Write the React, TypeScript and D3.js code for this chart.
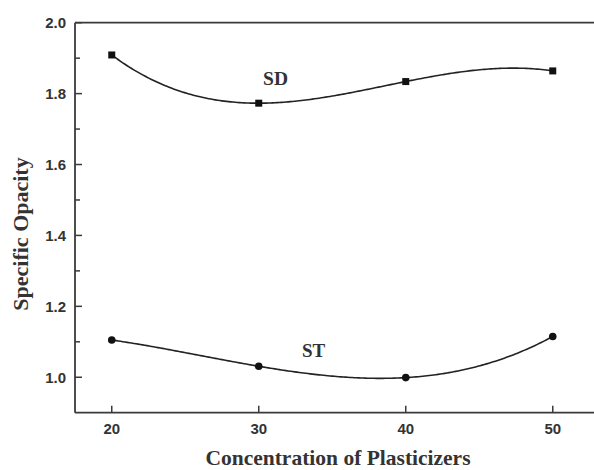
import React from "react";
import * as d3 from "d3";

const concentrations = [20, 30, 40, 50];
const sdValues = [1.909, 1.773, 1.834, 1.864];
const stValues = [1.105, 1.031, 0.999, 1.115];
const xTicks = [20, 30, 40, 50];
const yTicks = [1.0, 1.2, 1.4, 1.6, 1.8, 2.0];
const yMinorTicks = [1.1, 1.3, 1.5, 1.7, 1.9];

const W = 594;
const H = 470;
const left = 75;
const top = 22.7;
const bottom = 412.7;

// polynomial (Lagrange) interpolation through the data points, used only for the smooth curve rendering
function interp(xs: number[], ys: number[], t: number) {
  let s = 0;
  for (let i = 0; i < xs.length; i++) {
    let p = ys[i];
    for (let j = 0; j < xs.length; j++) {
      if (j !== i) p *= (t - xs[j]) / (xs[i] - xs[j]);
    }
    s += p;
  }
  return s;
}

export default function App() {
  const x = d3.scaleLinear().domain([17.5, 53]).range([left, left + 35.5 * 14.7]);
  const y = d3.scaleLinear().domain([0.9, 2.0]).range([bottom, top]);
  const xMin = concentrations[0];
  const xMax = concentrations[concentrations.length - 1];
  const samples = d3.range(0, 201).map((k) => xMin + ((xMax - xMin) * k) / 200);
  const line = d3
    .line<[number, number]>()
    .x((d) => x(d[0]))
    .y((d) => y(d[1]));
  const curveOf = (vals: number[]) =>
    line(samples.map((t) => [t, interp(concentrations, vals, t)] as [number, number])) || "";
  const right = x(53);
  const axisColor = "#3a3a3a";
  const textColor = "#333";
  const sans = "'Liberation Sans', Arial, sans-serif";
  const serif = "'Liberation Serif', 'Times New Roman', serif";

  return (
    <svg width={W} height={H} style={{ position: "absolute", left: 0, top: 0, background: "#fff" }}>
      {/* frame */}
      <line x1={left} x2={right} y1={top} y2={top} stroke={axisColor} strokeWidth={1.8} />
      <line x1={left} x2={right} y1={bottom} y2={bottom} stroke={axisColor} strokeWidth={1.8} />
      <line x1={left} x2={left} y1={top} y2={bottom} stroke={axisColor} strokeWidth={1.8} />
      <line x1={right} x2={right} y1={top} y2={bottom} stroke={axisColor} strokeWidth={1.8} />

      {/* y ticks */}
      {yTicks.map((t) => (
        <g key={"y" + t}>
          <line x1={left} x2={left + 7} y1={y(t)} y2={y(t)} stroke={axisColor} strokeWidth={1.5} />
          <text
            x={left - 9}
            y={y(t)}
            dy="0.36em"
            textAnchor="end"
            fontFamily={sans}
            fontWeight="bold"
            fontSize={15}
            fill={textColor}
          >
            {t.toFixed(1)}
          </text>
        </g>
      ))}
      {yMinorTicks.map((t) => (
        <line key={"ym" + t} x1={left} x2={left + 5} y1={y(t)} y2={y(t)} stroke={axisColor} strokeWidth={1.5} />
      ))}

      {/* x ticks */}
      {xTicks.map((t) => (
        <g key={"x" + t}>
          <line x1={x(t)} x2={x(t)} y1={bottom} y2={bottom - 7} stroke={axisColor} strokeWidth={1.5} />
          <text
            x={x(t)}
            y={434}
            textAnchor="middle"
            fontFamily={sans}
            fontWeight="bold"
            fontSize={15}
            fill={textColor}
          >
            {t}
          </text>
        </g>
      ))}

      {/* curves */}
      <path d={curveOf(sdValues)} fill="none" stroke="#222" strokeWidth={1.6} />
      <path d={curveOf(stValues)} fill="none" stroke="#222" strokeWidth={1.6} />

      {sdValues.map((v, i) => (
        <rect
          key={"sd" + i}
          x={x(concentrations[i]) - 3.5}
          y={y(v) - 3.5}
          width={7}
          height={7}
          fill="#111"
        />
      ))}
      {stValues.map((v, i) => (
        <circle key={"st" + i} cx={x(concentrations[i])} cy={y(v)} r={3.8} fill="#111" />
      ))}

      {/* series labels */}
      <text x={275.5} y={85} textAnchor="middle" fontFamily={serif} fontWeight="bold" fontSize={19.5} fill={textColor}>
        SD
      </text>
      <text x={313.5} y={357} textAnchor="middle" fontFamily={serif} fontWeight="bold" fontSize={19} fill={textColor}>
        ST
      </text>

      {/* axis titles */}
      <text
        x={338}
        y={465}
        textAnchor="middle"
        fontFamily={serif}
        fontWeight="bold"
        fontSize={21.5}
        fill={textColor}
      >
        Concentration of Plasticizers
      </text>
      <text
        transform={`translate(28, ${234}) rotate(-90)`}
        textAnchor="middle"
        fontFamily={serif}
        fontWeight="bold"
        fontSize={22}
        fill={textColor}
      >
        Specific Opacity
      </text>
    </svg>
  );
}
